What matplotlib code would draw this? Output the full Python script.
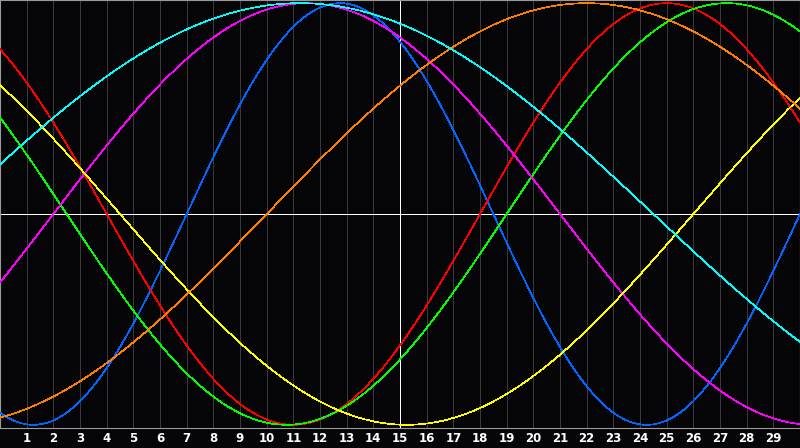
import numpy as np
import matplotlib.pyplot as plt

# biorhythm cycles (days) and their line colours
cycle_names = ["physical", "emotional", "intellectual", "intuitive",
               "aesthetic", "awareness", "spiritual"]
periods = [23, 28, 33, 38, 43, 48, 53]
colors = ["#0066ff", "#ff0000", "#00ff00", "#ff00ff",
          "#ffff00", "#ff8000", "#00ffff"]

days_since_birth = 17174          # at the left edge of the chart
n_days = 30
day_labels = [str(d) for d in range(1, 30)]
today = 15

bg = "#050508"
fig = plt.figure(figsize=(8, 4.48), dpi=100, facecolor=bg)
ax = fig.add_axes([0, 20 / 448, 1, 428 / 448])
ax.set_facecolor(bg)

for d in range(1, n_days):
    ax.axvline(d, color="#3a3a3e", lw=0.5, antialiased=False, zorder=1)
ax.axvline(today, color="white", lw=0.6, antialiased=False, zorder=2)
ax.axhline(0, color="white", lw=0.6, antialiased=False, zorder=2)

t = np.linspace(0, n_days, 1601)
for name, p, c in zip(cycle_names, periods, colors):
    ax.plot(t, np.sin(2 * np.pi * (days_since_birth + t) / p),
            color=c, lw=0.5, antialiased=False, zorder=3, label=name)

ax.set_xlim(0, n_days)
ax.set_ylim(-1.015, 1.015)
ax.set_yticks([])
ax.set_xticks(range(1, n_days))
ax.set_xticklabels(day_labels, color="white", fontsize=8.5,
                   fontweight="bold", family="DejaVu Sans")
ax.tick_params(axis="x", length=0, pad=3)
for s in ax.spines.values():
    s.set_color("#9a9a9a")
    s.set_linewidth(0.8)

fig.savefig("out.png", dpi=100, facecolor=bg)
